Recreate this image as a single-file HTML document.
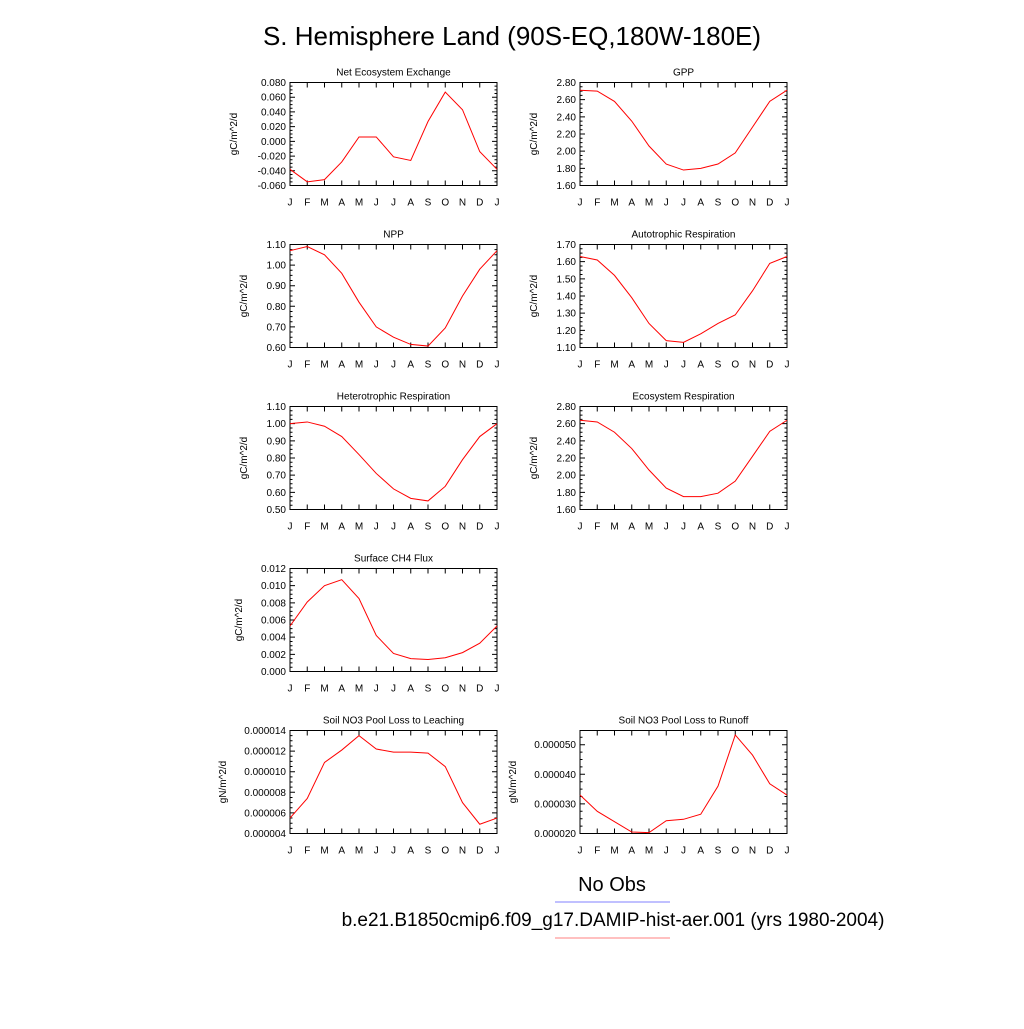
<!DOCTYPE html>
<html><head><meta charset="utf-8"><style>
body{margin:0;background:#fff;}
svg text{font-family:"Liberation Sans",sans-serif;fill:#000;}
</style></head><body>
<svg id="chart" width="1024" height="1024" viewBox="0 0 1024 1024" xmlns="http://www.w3.org/2000/svg">
<rect width="1024" height="1024" fill="#fff"/>
<text x="512" y="45" font-size="26" text-anchor="middle">S. Hemisphere Land (90S-EQ,180W-180E)</text>
<text x="612" y="891" font-size="20" text-anchor="middle">No Obs</text>
<line x1="555" y1="902" x2="670" y2="902" stroke="#8080ff" stroke-width="1"/>
<text x="613" y="926" font-size="19" text-anchor="middle">b.e21.B1850cmip6.f09_g17.DAMIP-hist-aer.001 (yrs 1980-2004)</text>
<line x1="555" y1="938" x2="670" y2="938" stroke="#ff8080" stroke-width="1"/>
<g id="panels"></g>
</svg>
<script>
const months = ["J","F","M","A","M","J","J","A","S","O","N","D","J"];
const neeValues = [-0.038,-0.055,-0.052,-0.028,0.006,0.006,-0.021,-0.026,0.027,0.067,0.043,-0.014,-0.038];
const gppValues = [2.71,2.70,2.58,2.35,2.06,1.85,1.78,1.80,1.85,1.98,2.28,2.58,2.71];
const nppValues = [1.07,1.09,1.05,0.96,0.82,0.70,0.65,0.615,0.607,0.695,0.85,0.98,1.07];
const arValues = [1.63,1.61,1.52,1.39,1.24,1.14,1.13,1.18,1.24,1.29,1.43,1.59,1.63];
const hrValues = [1.00,1.01,0.985,0.925,0.82,0.71,0.62,0.565,0.55,0.635,0.79,0.925,1.00];
const erValues = [2.64,2.62,2.50,2.31,2.06,1.85,1.75,1.75,1.79,1.93,2.22,2.51,2.64];
const ch4Values = [0.0053,0.0081,0.0100,0.0107,0.0085,0.0042,0.0021,0.0015,0.0014,0.0016,0.0022,0.0033,0.0053];
const leachValues = [0.0000055,0.0000074,0.0000109,0.0000121,0.0000135,0.0000122,0.0000119,0.0000119,0.0000118,0.0000105,0.0000070,0.0000049,0.0000055];
const runoffValues = [0.000033,0.0000275,0.000024,0.0000205,0.0000203,0.0000243,0.0000248,0.0000265,0.000036,0.0000533,0.0000465,0.0000368,0.000033];
const neeTicks = [-0.06,-0.04,-0.02,0,0.02,0.04,0.06,0.08];
const gppTicks = [1.6,1.8,2.0,2.2,2.4,2.6,2.8];
const nppTicks = [0.6,0.7,0.8,0.9,1.0,1.1];
const arTicks = [1.1,1.2,1.3,1.4,1.5,1.6,1.7];
const hrTicks = [0.5,0.6,0.7,0.8,0.9,1.0,1.1];
const erTicks = [1.6,1.8,2.0,2.2,2.4,2.6,2.8];
const ch4Ticks = [0,0.002,0.004,0.006,0.008,0.010,0.012];
const leachTicks = [0.000004,0.000006,0.000008,0.000010,0.000012,0.000014];
const runoffTicks = [0.00002,0.00003,0.00004,0.00005];

const NS="http://www.w3.org/2000/svg";
const root=document.getElementById('panels');
function mk(tag,attrs,parent){const e=document.createElementNS(NS,tag);for(const k in attrs)e.setAttribute(k,attrs[k]);parent.appendChild(e);return e;}

function panel(name,title,ylab,vals,ticks,dec,ymin,ymax,x0,y0,ylabX){
  const w=207,h=103;
  const g=mk('g',{},root);
  
  
  const xs=i=>x0+i*w/12;
  const ys=v=>y0+h-(v-ymin)/(ymax-ymin)*h;
  const t=mk('text',{x:x0+w/2,y:y0-7,'font-size':10,'text-anchor':'middle'},g);
  
  
  t.textContent=title;
  const yl=mk('text',{x:ylabX,y:y0+h/2,'font-size':10,'text-anchor':'middle',transform:`rotate(-90 ${ylabX} ${y0+h/2})`},g);
  
  
  yl.textContent=ylab;
  let tk='';
  // x ticks
  months.forEach((m,i)=>{
    const x=xs(i);
    tk+=`M${x},${y0+h}v-5M${x},${y0}v5`;
    const lt=mk('text',{x:x,y:y0+h+20,'font-size':10,'text-anchor':'middle'},g);
    
    
    lt.textContent=m;
  });
  // y ticks major + minor
  const step=ticks[1]-ticks[0];
  ticks.forEach(v=>{
    const y=ys(v);
    tk+=`M${x0},${y}h5M${x0+w},${y}h-5`;
    for(let k=1;k<4;k++){const vm=v+k*step/4;if(vm<=ymax+1e-12){const ym=ys(vm);tk+=`M${x0},${ym}h2.5M${x0+w},${ym}h-2.5`;}}
    const lt=mk('text',{x:x0-4,y:y+3.5,'font-size':10,'text-anchor':'end'},g);
    
    
    lt.textContent=v.toFixed(dec);
  });
  const tp=mk('path',{d:tk,stroke:'#000','stroke-width':1,fill:'none'},g);
  
  
  const fr=mk('rect',{x:x0,y:y0,width:w,height:h,fill:'none',stroke:'#000','stroke-width':1},g);
  
  
  const ln=mk('polyline',{points:vals.map((v,i)=>xs(i)+','+ys(v)).join(' '),fill:'none',stroke:'#ff0000','stroke-width':1},g);
  
  
}
panel('nee','Net Ecosystem Exchange','gC/m^2/d',neeValues,neeTicks,3,-0.06,0.08,290,82.5,237);
panel('gpp','GPP','gC/m^2/d',gppValues,gppTicks,2,1.6,2.8,580,82.5,537);
panel('npp','NPP','gC/m^2/d',nppValues,nppTicks,2,0.6,1.1,290,244.5,247);
panel('ar','Autotrophic Respiration','gC/m^2/d',arValues,arTicks,2,1.1,1.7,580,244.5,537);
panel('hr','Heterotrophic Respiration','gC/m^2/d',hrValues,hrTicks,2,0.5,1.1,290,406.5,247);
panel('er','Ecosystem Respiration','gC/m^2/d',erValues,erTicks,2,1.6,2.8,580,406.5,537);
panel('ch4','Surface CH4 Flux','gC/m^2/d',ch4Values,ch4Ticks,3,0,0.012,290,568.5,242);
panel('leach','Soil NO3 Pool Loss to Leaching','gN/m^2/d',leachValues,leachTicks,6,0.000004,0.000014,290,730.5,226);
panel('runoff','Soil NO3 Pool Loss to Runoff','gN/m^2/d',runoffValues,runoffTicks,6,0.00002,0.0000548,580,730.5,516);
</script>
</body></html>
